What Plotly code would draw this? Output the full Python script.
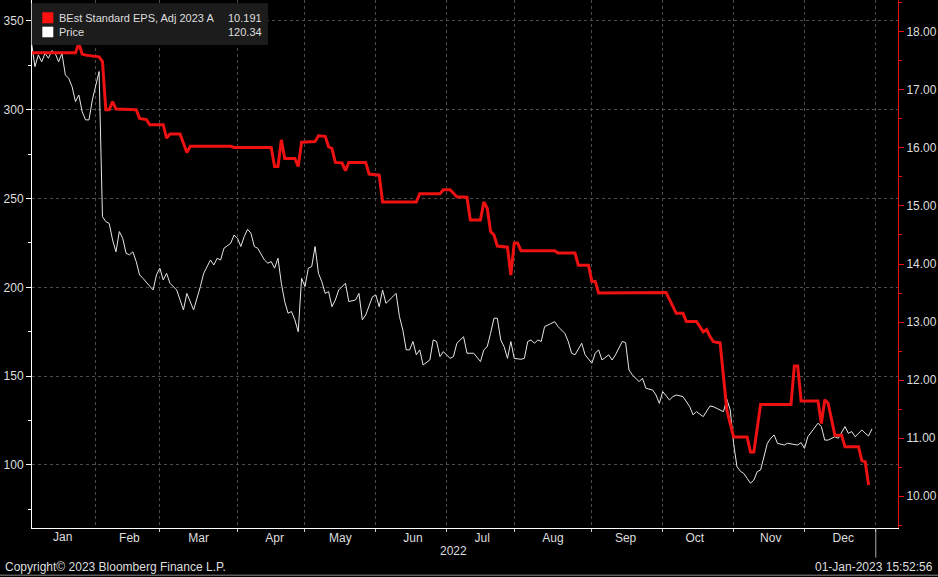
import plotly.graph_objects as go

# ---------------- data ----------------
price_dates = [
    "2022-01-04","2022-01-05","2022-01-06","2022-01-07","2022-01-10","2022-01-11","2022-01-12","2022-01-13","2022-01-14","2022-01-18",
    "2022-01-19","2022-01-20","2022-01-21","2022-01-24","2022-01-25","2022-01-26","2022-01-27","2022-01-28","2022-01-31","2022-02-01",
    "2022-02-02","2022-02-03","2022-02-04","2022-02-07","2022-02-08","2022-02-09","2022-02-10","2022-02-11","2022-02-14","2022-02-15",
    "2022-02-16","2022-02-17","2022-02-18","2022-02-22","2022-02-25","2022-02-28","2022-03-01","2022-03-02","2022-03-03","2022-03-04",
    "2022-03-08","2022-03-09","2022-03-10","2022-03-11","2022-03-14","2022-03-15","2022-03-17","2022-03-18","2022-03-22","2022-03-23",
    "2022-03-24","2022-03-25","2022-03-28","2022-03-30","2022-03-31","2022-04-01","2022-04-04","2022-04-05","2022-04-06","2022-04-07",
    "2022-04-08","2022-04-11","2022-04-13","2022-04-14","2022-04-18","2022-04-19","2022-04-20","2022-04-21","2022-04-22","2022-04-25",
    "2022-04-26","2022-04-27","2022-04-28","2022-04-29","2022-05-02","2022-05-03","2022-05-04","2022-05-05","2022-05-06","2022-05-09",
    "2022-05-10","2022-05-11","2022-05-12","2022-05-13","2022-05-16","2022-05-18","2022-05-19","2022-05-23","2022-05-24","2022-05-25",
    "2022-05-26","2022-05-31","2022-06-01","2022-06-02","2022-06-03","2022-06-06","2022-06-08","2022-06-09","2022-06-10","2022-06-13",
    "2022-06-14","2022-06-15","2022-06-16","2022-06-17","2022-06-21","2022-06-22","2022-06-24","2022-06-27","2022-06-28","2022-06-29",
    "2022-06-30","2022-07-05","2022-07-06","2022-07-07","2022-07-11","2022-07-12","2022-07-14","2022-07-18","2022-07-19","2022-07-20",
    "2022-07-21","2022-07-22","2022-07-25","2022-07-26","2022-07-27","2022-07-28","2022-07-29","2022-08-01","2022-08-03","2022-08-04",
    "2022-08-05","2022-08-08","2022-08-09","2022-08-10","2022-08-11","2022-08-12","2022-08-15","2022-08-17","2022-08-18","2022-08-22",
    "2022-08-23","2022-08-24","2022-08-25","2022-08-29","2022-08-30","2022-09-01","2022-09-02","2022-09-06","2022-09-07","2022-09-09",
    "2022-09-12","2022-09-13","2022-09-15","2022-09-16","2022-09-19","2022-09-20","2022-09-22","2022-09-23","2022-09-26","2022-09-28",
    "2022-09-29","2022-09-30","2022-10-03","2022-10-05","2022-10-06","2022-10-07","2022-10-11","2022-10-12","2022-10-13","2022-10-14",
    "2022-10-17","2022-10-19","2022-10-20","2022-10-21","2022-10-24","2022-10-26","2022-10-27","2022-10-28","2022-10-31","2022-11-01",
    "2022-11-02","2022-11-03","2022-11-04","2022-11-07","2022-11-08","2022-11-09","2022-11-10","2022-11-11","2022-11-14","2022-11-15",
    "2022-11-16","2022-11-17","2022-11-18","2022-11-22","2022-11-23","2022-11-29","2022-11-30","2022-12-01","2022-12-02","2022-12-06",
    "2022-12-07","2022-12-08","2022-12-09","2022-12-12","2022-12-14","2022-12-15","2022-12-19","2022-12-20","2022-12-21","2022-12-22",
    "2022-12-23","2022-12-27","2022-12-28","2022-12-29","2022-12-30",
]
price_values = [
    337.4, 324.3, 330.9, 327.0, 331.8, 329.0, 333.3, 331.8, 327.0, 331.8,
    319.6, 317.7, 313.0, 304.6, 308.3, 298.9, 294.3, 294.3, 305.5, 314.0,
    321.5, 239.8, 237.0, 236.0, 226.7, 220.0, 231.4, 227.6, 219.2, 218.3,
    220.0, 214.5, 207.0, 205.1, 198.5, 207.0, 210.8, 204.2, 207.9, 202.3,
    198.5, 192.9, 187.3, 196.6, 192.0, 187.3, 200.4, 207.9, 215.4, 212.6,
    216.4, 215.4, 222.0, 224.8, 229.5, 227.6, 223.0, 228.6, 232.7, 230.5,
    223.0, 222.0, 215.4, 213.6, 214.5, 210.8, 216.4, 202.3, 192.0, 185.4,
    186.4, 181.7, 175.0, 205.1, 200.4, 210.8, 211.7, 223.0, 207.9, 203.2,
    196.6, 197.6, 189.1, 192.9, 198.5, 202.3, 192.0, 192.9, 196.6, 181.7,
    184.5, 194.7, 195.7, 189.1, 198.5, 191.0, 194.7, 196.6, 183.5, 176.0,
    164.8, 164.8, 169.5, 162.0, 164.8, 156.3, 159.1, 170.4, 169.5, 161.0,
    163.8, 160.0, 161.0, 168.5, 172.2, 162.9, 162.9, 158.2, 164.8, 166.6,
    174.1, 182.6, 182.6, 170.4, 166.6, 160.0, 169.5, 160.0, 159.5, 160.0,
    169.5, 170.4, 168.5, 170.4, 169.5, 177.9, 178.8, 180.7, 177.9, 174.1,
    169.5, 162.9, 162.0, 168.5, 162.0, 157.3, 162.9, 164.8, 159.1, 162.0,
    159.1, 162.0, 169.5, 168.9, 153.5, 150.7, 146.9, 148.8, 143.2, 142.2,
    139.4, 134.7, 141.3, 136.6, 138.5, 139.4, 138.5, 135.7, 132.8, 128.2,
    130.0, 127.2, 130.0, 133.2, 132.8, 131.0, 130.0, 137.0, 131.0, 112.0,
    99.0, 96.5, 95.2, 92.5, 89.7, 91.5, 96.2, 97.2, 104.7, 112.2,
    115.0, 116.9, 112.2, 111.2, 112.2, 111.2, 112.6, 109.3, 115.9, 120.6,
    123.5, 121.6, 114.0, 114.0, 115.9, 115.0, 121.6, 117.8, 118.8, 115.9,
    117.8, 119.7, 117.8, 116.3, 120.34,
]

eps_dates = [
    "2022-01-04","2022-01-24","2022-01-25","2022-01-26","2022-01-27","2022-01-31","2022-02-02","2022-02-03","2022-02-04","2022-02-07",
    "2022-02-08","2022-02-09","2022-02-17","2022-02-18","2022-02-23","2022-02-24","2022-03-02","2022-03-03","2022-03-04","2022-03-09",
    "2022-03-11","2022-03-14","2022-03-30","2022-03-31","2022-04-18","2022-04-19","2022-04-20","2022-04-21","2022-04-22","2022-04-27",
    "2022-04-28","2022-04-29","2022-05-05","2022-05-06","2022-05-10","2022-05-11","2022-05-12","2022-05-13","2022-05-17","2022-05-18",
    "2022-05-19","2022-05-26","2022-05-27","2022-06-02","2022-06-03","2022-06-17","2022-06-21","2022-06-29","2022-06-30","2022-07-05",
    "2022-07-07","2022-07-12","2022-07-13","2022-07-18","2022-07-19","2022-07-20","2022-07-21","2022-07-22","2022-07-25","2022-07-28",
    "2022-07-29","2022-08-01","2022-08-02","2022-08-03","2022-08-17","2022-08-18","2022-08-25","2022-08-26","2022-08-31","2022-09-01",
    "2022-09-02","2022-09-06","2022-10-04","2022-10-07","2022-10-11","2022-10-12","2022-10-17","2022-10-19","2022-10-20","2022-10-21",
    "2022-10-24","2022-10-26","2022-10-27","2022-10-28","2022-11-01","2022-11-07","2022-11-08","2022-11-09","2022-11-11","2022-11-25",
    "2022-11-28","2022-11-29","2022-11-30","2022-12-07","2022-12-08","2022-12-09","2022-12-12","2022-12-14","2022-12-16","2022-12-19",
    "2022-12-23","2022-12-27","2022-12-28","2022-12-29",
]
eps_values = [
    17.64, 17.64, 17.80, 17.62, 17.60, 17.59, 17.57, 17.49, 16.66, 16.66,
    16.80, 16.67, 16.66, 16.51, 16.49, 16.40, 16.40, 16.17, 16.24, 16.24,
    15.92, 16.03, 16.03, 16.01, 16.01, 15.68, 15.68, 16.14, 15.82, 15.82,
    15.68, 16.10, 16.11, 16.21, 16.20, 16.02, 15.99, 15.75, 15.74, 15.61,
    15.75, 15.75, 15.55, 15.53, 15.07, 15.07, 15.21, 15.21, 15.28, 15.28,
    15.16, 15.15, 14.76, 14.76, 15.07, 14.96, 14.56, 14.50, 14.31, 14.29,
    13.81, 14.36, 14.36, 14.23, 14.23, 14.19, 14.19, 13.98, 13.98, 13.70,
    13.70, 13.50, 13.51, 13.15, 13.15, 13.01, 13.01, 12.83, 12.87, 12.75,
    12.66, 12.64, 12.00, 11.48, 11.02, 11.02, 10.76, 10.76, 11.58, 11.58,
    12.24, 12.24, 11.64, 11.64, 11.25, 11.66, 11.60, 11.05, 11.05, 10.85,
    10.85, 10.61, 10.59, 10.191,
]

legend_names = ["BEst Standard EPS, Adj 2023 A", "Price"]
legend_values = ["10.191", "120.34"]
first_month_label = "Jan"
holidays = ["2022-01-17", "2022-02-21", "2022-04-15", "2022-05-30", "2022-06-20",
            "2022-07-04", "2022-09-05", "2022-11-24", "2022-12-26", "2023-01-02"]

# ---------------- figure ----------------
W, H = 938, 577
L, R, T, B = 32, 897.7, 0, 528.3   # plot area in pixels


def px(x):
    return (x - L) / (R - L)


def py(y):
    return (B - y) / (B - T)


TXT = "#dedede"
RED = "#ee1111"
GRID = "#4d4d4d"
FONT = "Liberation Sans"

fig = go.Figure()
fig.add_trace(go.Scatter(x=price_dates, y=price_values, mode="lines", name="Price",
                         line=dict(color="#e6e6e6", width=1), yaxis="y", hoverinfo="skip"))
fig.add_trace(go.Scatter(x=eps_dates, y=eps_values, mode="lines", name=legend_names[0],
                         line=dict(color=RED, width=3), yaxis="y2", hoverinfo="skip"))

fig.update_layout(
    width=W, height=H,
    margin=dict(l=L, r=W - R, t=T, b=H - B),
    paper_bgcolor="black", plot_bgcolor="black",
    showlegend=False,
    font=dict(family=FONT, size=12, color=TXT),
    xaxis=dict(
        type="date",
        range=["2022-01-04 03:00", "2023-01-11 17:00"],
        rangebreaks=[dict(bounds=["sat", "mon"]), dict(values=holidays)],
        dtick="M1", tick0="2022-01-01", tickformat="%b", ticklabelmode="period",
        ticks="outside", ticklen=3, tickcolor="#cccccc",
        ticklabelstandoff=-4,
        showline=True, linecolor="white", linewidth=1,
        showgrid=True, gridcolor=GRID, griddash="dot", gridwidth=1,
        zeroline=False, tickfont=dict(size=12, color=TXT),
    ),
    yaxis=dict(
        range=[64.5, 361.8], dtick=50, tick0=0,
        ticks="outside", ticklen=5, tickcolor="white",
        showline=True, linecolor="white", linewidth=1,
        showgrid=True, gridcolor=GRID, griddash="dot", gridwidth=1,
        zeroline=False, tickfont=dict(size=12, color=TXT),
        minor=dict(dtick=25, ticks="outside", ticklen=3, tickcolor="white", showgrid=False),
    ),
    yaxis2=dict(
        overlaying="y", side="right",
        range=[9.45, 18.55], dtick=1, tick0=0, tickformat=".2f",
        ticks="outside", ticklen=5, tickcolor=RED,
        showline=True, linecolor=RED, linewidth=1,
        showgrid=False, zeroline=False, tickfont=dict(size=12, color=TXT),
        minor=dict(dtick=0.5, ticks="outside", ticklen=3, tickcolor=RED, showgrid=False),
    ),
)

shapes = [
    # legend box
    dict(type="rect", xref="paper", yref="paper", x0=px(31.7), x1=px(268), y0=py(45), y1=py(3.3),
         fillcolor="#1c1c1c", line=dict(width=0), layer="above"),
    dict(type="rect", xref="paper", yref="paper", x0=px(42.3), x1=px(53.3), y0=py(23.3), y1=py(12.3),
         fillcolor="#ff1010", line=dict(width=0), layer="above"),
    dict(type="rect", xref="paper", yref="paper", x0=px(42.3), x1=px(53.3), y0=py(37.3), y1=py(26.7),
         fillcolor="#ffffff", line=dict(width=0), layer="above"),
    # date marker below the axis
    dict(type="line", xref="paper", yref="paper", x0=px(875.5), x1=px(875.5), y0=py(528.3), y1=py(558),
         line=dict(color="#aaaaaa", width=1)),
    # bottom frame line
    dict(type="line", xref="paper", yref="paper", x0=px(0), x1=px(938), y0=py(575.5), y1=py(575.5),
         line=dict(color="#8a8a8a", width=1)),
]
fig.update_layout(shapes=shapes)

LEG = 11
ann = [
    dict(text=legend_names[0], x=px(57), y=py(18), xanchor="left", yanchor="middle", size=LEG),
    dict(text=legend_values[0], x=px(264), y=py(18), xanchor="right", yanchor="middle", size=LEG),
    dict(text=legend_names[1], x=px(57), y=py(32), xanchor="left", yanchor="middle", size=LEG),
    dict(text=legend_values[1], x=px(264), y=py(32), xanchor="right", yanchor="middle", size=LEG),
    dict(text=first_month_label, x=px(62), y=py(537.5), xanchor="center", yanchor="middle", size=12),
    dict(text="2022", x=px(453), y=py(551.5), xanchor="center", yanchor="middle", size=12),
    dict(text="Copyright\u00a9 2023 Bloomberg Finance L.P.", x=px(3), y=py(567), xanchor="left", yanchor="middle", size=12),
    dict(text="01-Jan-2023 15:52:56", x=px(935), y=py(567), xanchor="right", yanchor="middle", size=12),
]
for a in ann:
    s = a.pop("size")
    a.update(xref="paper", yref="paper", showarrow=False,
             font=dict(family=FONT, size=s, color=TXT))
fig.update_layout(annotations=ann)

fig.write_html("out.html")
